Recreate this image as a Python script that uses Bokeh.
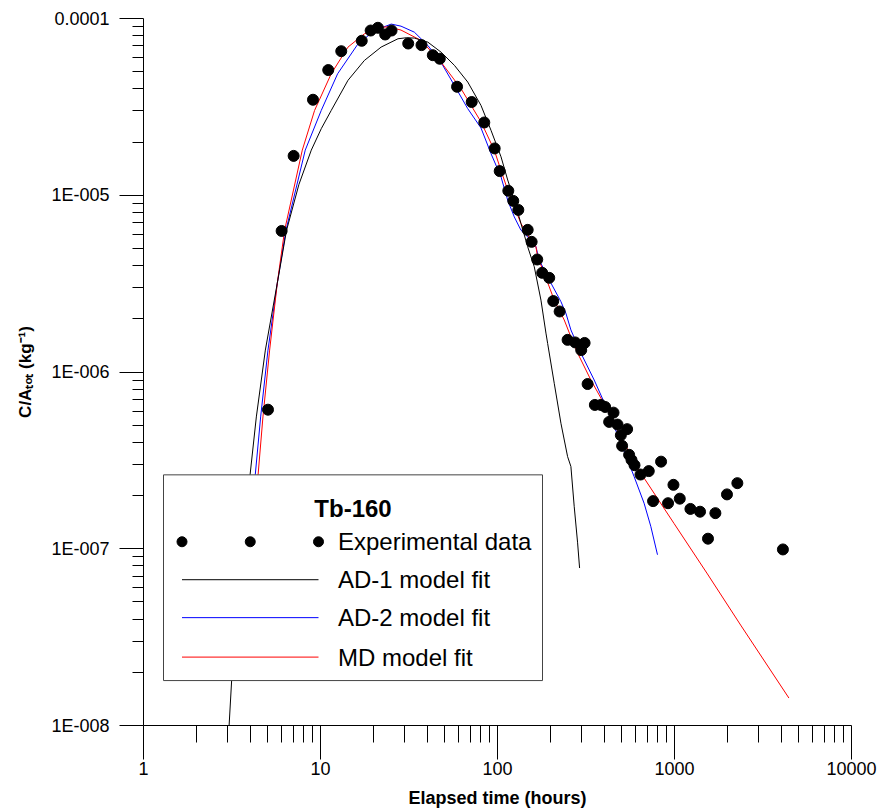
import numpy as np
from bokeh.plotting import figure
from bokeh.models import FixedTicker, Range1d, LinearScale
from bokeh.embed import file_html
from bokeh.resources import INLINE
from bokeh.core.properties import value

# ---------------- data ----------------
exp_time = [5.05, 6.03, 7.05, 9.07, 11.06, 13.1, 17.1, 19.2, 21.1, 23.2, 25.2, 31.3, 37.2,
            43.1, 47.2, 59.1, 71.5, 84.2, 96.4, 102.9, 115.1, 122.8, 131.1, 148.1, 155.9,
            167.7, 178.9, 196.0, 206.5, 224.4, 248.9, 274.8, 310.5, 297.1, 322.9, 354.9,
            383.7, 405.7, 452.4, 427.4, 476.6, 539.9, 497.6, 505.9, 554.1, 571.6, 594.4,
            642.6, 715.6, 839.8, 756.8, 919.5, 986.5, 1071, 1230, 1394, 1702, 1546, 1979,
            2265, 4097]
exp_conc = [6.12e-7, 6.28e-6, 1.67e-5, 3.47e-5, 5.11e-5, 6.53e-5, 7.48e-5, 8.55e-5, 8.86e-5,
            8.12e-5, 8.55e-5, 7.22e-5, 7.07e-5, 6.20e-5, 5.92e-5, 4.11e-5, 3.37e-5, 2.58e-5,
            1.84e-5, 1.37e-5, 1.06e-5, 9.29e-6, 8.26e-6, 6.37e-6, 5.45e-6, 4.33e-6, 3.64e-6,
            3.41e-6, 2.52e-6, 2.20e-6, 1.52e-6, 1.47e-6, 1.46e-6, 1.33e-6, 8.55e-7, 6.51e-7,
            6.51e-7, 6.34e-7, 5.89e-7, 5.22e-7, 5.04e-7, 4.75e-7, 4.39e-7, 3.82e-7, 3.40e-7,
            3.18e-7, 2.97e-7, 2.63e-7, 2.75e-7, 3.11e-7, 1.86e-7, 1.81e-7, 2.30e-7, 1.92e-7,
            1.68e-7, 1.62e-7, 1.59e-7, 1.14e-7, 2.03e-7, 2.35e-7, 9.91e-8]

ad1_time = [3.045, 3.15, 4.0, 4.34, 4.88, 5.70, 6.43, 7.55, 8.87, 10.1, 11.5, 14.3, 17.7,
            22.0, 27.4, 30.5, 33.9, 40.4, 48.0, 57.1, 67.9, 80.7, 91.9, 104.7, 114.2, 124.4,
            135.7, 148.1, 161.3, 176.0, 187.8, 192.0, 209.2, 228.2, 248.9, 259.8, 271.3,
            283.5, 290.9]
ad1_conc = [1.0e-8, 1.82e-8, 2.62e-7, 5.57e-7, 1.33e-6, 3.18e-6, 6.34e-6, 1.15e-5, 1.80e-5,
            2.38e-5, 3.02e-5, 4.47e-5, 5.79e-5, 6.89e-5, 7.68e-5, 7.78e-5, 7.75e-5, 7.35e-5,
            6.45e-5, 5.43e-5, 4.37e-5, 3.22e-5, 2.33e-5, 1.65e-5, 1.22e-5, 9.37e-6, 6.92e-6,
            5.11e-6, 3.94e-6, 2.55e-6, 1.66e-6, 1.45e-6, 8.63e-7, 5.13e-7, 3.32e-7, 2.92e-7,
            1.73e-7, 1.08e-7, 7.78e-8]

ad2_time = [3.75, 4.28, 4.59, 5.05, 5.70, 6.38, 8.20, 10.1, 12.5, 16.3, 20.2, 25.1, 28.5,
            33.9, 40.4, 48.0, 57.1, 67.9, 80.7, 91.9, 104.7, 114.2, 124.4, 135.7, 154.5,
            164.9, 172.2, 192.0, 228.2, 243.5, 259.8, 295.9, 351.7, 418.5, 497.6, 591.4,
            673.2, 734.5, 801.5]
ad2_conc = [6.0e-8, 2.62e-7, 5.57e-7, 1.33e-6, 3.18e-6, 6.34e-6, 1.80e-5, 3.02e-5, 4.87e-5,
            7.19e-5, 8.55e-5, 9.30e-5, 9.05e-5, 8.37e-5, 7.04e-5, 5.64e-5, 4.18e-5, 3.09e-5,
            2.40e-5, 1.72e-5, 1.27e-5, 9.37e-6, 7.54e-6, 6.34e-6, 5.57e-6, 5.11e-6, 4.30e-6,
            3.45e-6, 2.50e-6, 2.15e-6, 1.73e-6, 1.28e-6, 9.01e-7, 6.10e-7, 3.96e-7, 2.56e-7,
            1.81e-7, 1.34e-7, 9.25e-8]

md_time = [3.9, 4.44, 4.73, 5.16, 5.70, 6.27, 7.89, 9.26, 11.5, 14.3, 17.7, 22.0, 24.0,
           28.5, 37.0, 48.0, 62.2, 80.7, 95.9, 104.7, 114.2, 124.4, 135.7, 154.5, 164.9,
           168.6, 183.7, 209.2, 238.2, 259.8, 283.5, 336.9, 418.5, 519.3, 645.0, 994,
           1535, 2364, 4430]
md_conc = [6.0e-8, 2.62e-7, 5.57e-7, 1.33e-6, 3.18e-6, 6.34e-6, 1.80e-5, 3.02e-5, 4.87e-5,
           6.89e-5, 8.19e-5, 8.90e-5, 8.98e-5, 8.60e-5, 7.51e-5, 5.66e-5, 4.01e-5, 2.60e-5,
           1.80e-5, 1.38e-5, 1.07e-5, 8.59e-6, 6.92e-6, 5.57e-6, 5.11e-6, 4.48e-6, 3.61e-6,
           2.55e-6, 1.97e-6, 1.58e-6, 1.28e-6, 9.01e-7, 6.10e-7, 3.96e-7, 2.68e-7, 1.39e-7,
           7.2e-8, 3.7e-8, 1.43e-8]

x_tick_values = [1, 10, 100, 1000, 10000]
x_tick_labels = ["1", "10", "100", "1000", "10000"]
y_tick_values = [1e-8, 1e-7, 1e-6, 1e-5, 1e-4]
y_tick_labels = ["1E-008", "1E-007", "1E-006", "1E-005", "0.0001"]

legend_title = "Tb-160"
legend_labels = ["Experimental data", "AD-1 model fit", "AD-2 model fit", "MD model fit"]

# ---------------- figure ----------------
FONT = "Liberation Sans"
FW, FH = 708, 708

p = figure(width=884, height=810, x_axis_type="log", y_axis_type="log",
           x_range=Range1d(1, 10000), y_range=Range1d(1e-8, 1e-4),
           output_backend="svg", toolbar_location=None,
           min_border_left=143, min_border_right=33, min_border_top=18, min_border_bottom=84)
p.outline_line_color = None
p.grid.visible = False
p.background_fill_color = "white"
p.border_fill_color = "white"

x_minor = [k * 10 ** d for d in range(0, 4) for k in range(2, 10)]
y_minor = [k * 10.0 ** d for d in range(-8, -4) for k in range(2, 10)]

p.xaxis.ticker = FixedTicker(ticks=x_tick_values, minor_ticks=x_minor)
p.yaxis.ticker = FixedTicker(ticks=y_tick_values, minor_ticks=y_minor)
p.xaxis.major_label_overrides = dict(zip(x_tick_values, x_tick_labels))
p.yaxis.major_label_overrides = dict(zip(y_tick_values, y_tick_labels))

for ax in (p.xaxis[0], p.yaxis[0]):
    ax.axis_line_color = "black"
    ax.major_tick_line_color = "black"
    ax.minor_tick_line_color = "black"
    ax.major_tick_in = 0
    ax.minor_tick_in = 0
    ax.major_label_text_font = FONT
    ax.major_label_text_font_size = "18px"
    ax.major_label_text_color = "black"
    ax.axis_label_text_font = FONT
    ax.axis_label_text_font_style = "bold"
    ax.axis_label_text_color = "black"

p.xaxis.major_tick_out = 34
p.xaxis.minor_tick_out = 17
p.yaxis.major_tick_out = 24
p.yaxis.minor_tick_out = 11
p.xaxis.major_label_standoff = 2
p.yaxis.major_label_standoff = 10
p.xaxis.axis_label = "Elapsed time (hours)"
p.xaxis.axis_label_text_font_size = "18px"
p.xaxis.axis_label_standoff = 10
p.yaxis.axis_label = "C/A\u209c\u2092\u209c (kg\u207b\u00b9)"
p.yaxis.axis_label_text_font_size = "17px"
p.yaxis.axis_label_standoff = 13

# ---------------- model curves and data ----------------
p.line(ad2_time, ad2_conc, line_color="#0000ff", line_width=1)
p.line(md_time, md_conc, line_color="#ff0000", line_width=1)
p.line(ad1_time, ad1_conc, line_color="black", line_width=1)
p.scatter(exp_time, exp_conc, size=11, fill_color="black", line_color="black")

# ---------------- legend (drawn in frame pixel coordinates) ----------------
p.extra_x_ranges = {"px": Range1d(0, FW)}
p.extra_x_scales = {"px": LinearScale()}
p.extra_y_ranges = {"py": Range1d(FH, 0)}
p.extra_y_scales = {"py": LinearScale()}
kw = dict(x_range_name="px", y_range_name="py")

box_l, box_r, box_t, box_b = 20, 399, 457, 663
p.quad(left=[box_l], right=[box_r], top=[box_t], bottom=[box_b],
       fill_color="white", line_color="#444444", line_width=1, **kw)

row_y = [524, 562, 600, 639.5]
sym_x0, sym_x1, text_x = 38.5, 175, 194.5
p.text(x=[(box_l + box_r) / 2], y=[491], text=[legend_title],
       text_font=value(FONT), text_font_size="24px", text_font_style="bold",
       text_align="center", text_baseline="middle", text_color="black", **kw)
p.scatter(x=[sym_x0, (sym_x0 + sym_x1) / 2, sym_x1], y=[row_y[0]] * 3, size=10,
          fill_color="black", line_color="black", **kw)
for yy, col in zip(row_y[1:], ["black", "#0000ff", "#ff0000"]):
    p.line(x=[sym_x0, sym_x1], y=[yy, yy], line_color=col, line_width=1, **kw)
p.text(x=[text_x] * 4, y=row_y, text=legend_labels,
       text_font=value(FONT), text_font_size="24px", text_align="left",
       text_baseline="middle", text_color="black", **kw)

open("out.html", "w").write(file_html(p, INLINE))
